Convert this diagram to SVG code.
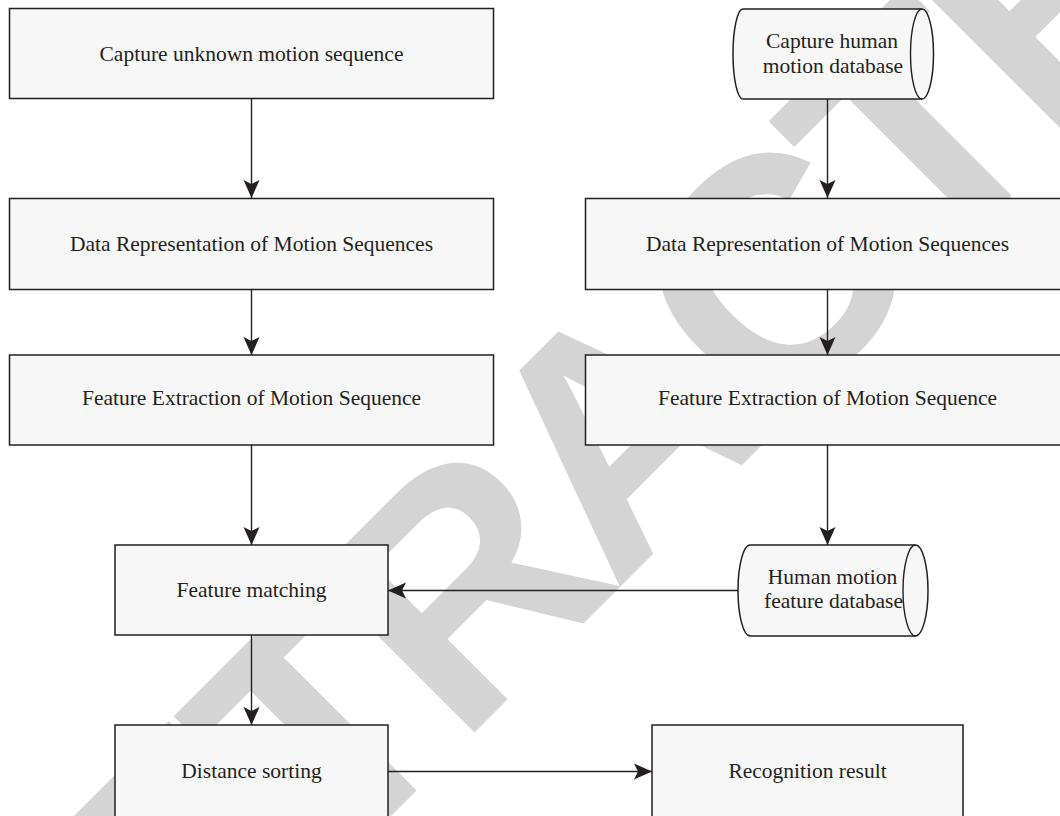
<svg xmlns="http://www.w3.org/2000/svg" width="1060" height="816" viewBox="0 0 1060 816">
  <style>
    .box { fill: #f7f7f7; stroke: #231f20; stroke-width: 1.5; }
    .edge { fill: none; stroke: #231f20; stroke-width: 1.4; }
    .label { font-family: "Liberation Serif", "Times New Roman", serif; font-size: 21.5px; fill: #231f20; text-anchor: middle; }
    .stamp { font-family: "Liberation Sans", Arial, sans-serif; font-weight: bold; font-size: 326px; letter-spacing: -16px; fill: #d4d4d4; }
  </style>
  <defs>
    <marker id="arrow" markerUnits="userSpaceOnUse" markerWidth="20" markerHeight="18" refX="18" refY="9" orient="auto">
      <path d="M18,9 L0,1 L4,9 L0,17 Z" fill="#231f20"/>
    </marker>
  </defs>

  <rect width="1060" height="816" fill="#ffffff"/>

  <!-- diagonal stamp behind the flowchart -->
  <text class="stamp" transform="translate(32,1175) rotate(-45)">RETRACTED</text>

  <g id="connectors">
    <line class="edge" x1="251.5" y1="98" x2="251.5" y2="198" marker-end="url(#arrow)"/>
    <line class="edge" x1="251.5" y1="290" x2="251.5" y2="355" marker-end="url(#arrow)"/>
    <line class="edge" x1="251.5" y1="445" x2="251.5" y2="545" marker-end="url(#arrow)"/>
    <line class="edge" x1="251.5" y1="635" x2="251.5" y2="725" marker-end="url(#arrow)"/>
    <line class="edge" x1="827.5" y1="99" x2="827.5" y2="198" marker-end="url(#arrow)"/>
    <line class="edge" x1="827.5" y1="290" x2="827.5" y2="355" marker-end="url(#arrow)"/>
    <line class="edge" x1="827.5" y1="445" x2="827.5" y2="545" marker-end="url(#arrow)"/>
    <line class="edge" x1="738" y1="590.5" x2="388" y2="590.5" marker-end="url(#arrow)"/>
    <line class="edge" x1="388" y1="771.5" x2="652" y2="771.5" marker-end="url(#arrow)"/>
  </g>

  <g id="capture-unknown">
    <rect class="box" x="9.5" y="8.5" width="484" height="90"/>
    <text class="label" x="251.5" y="61">Capture unknown motion sequence</text>
  </g>

  <g id="data-rep-left">
    <rect class="box" x="9.5" y="198.5" width="484" height="91"/>
    <text class="label" x="251.5" y="251">Data Representation of Motion Sequences</text>
  </g>

  <g id="feature-extract-left">
    <rect class="box" x="9.5" y="355" width="484" height="90"/>
    <text class="label" x="251.5" y="405">Feature Extraction of Motion Sequence</text>
  </g>

  <g id="feature-matching">
    <rect class="box" x="115" y="545" width="273" height="90"/>
    <text class="label" x="251.5" y="597">Feature matching</text>
  </g>

  <g id="distance-sorting">
    <rect class="box" x="115" y="725" width="273" height="110"/>
    <text class="label" x="251.5" y="778">Distance sorting</text>
  </g>

  <g id="capture-database">
    <path class="box" d="M743,9 L922,9 A11.5,45 0 0 1 922,99 L743,99 A10,45 0 0 1 743,9 Z"/>
    <path class="edge" d="M922,9 A11.5,45 0 0 0 922,99"/>
    <text class="label" x="832" y="48">Capture human</text>
    <text class="label" x="833" y="73">motion database</text>
  </g>

  <g id="data-rep-right">
    <rect class="box" x="585.5" y="198.5" width="490" height="91"/>
    <text class="label" x="827.5" y="251">Data Representation of Motion Sequences</text>
  </g>

  <g id="feature-extract-right">
    <rect class="box" x="585.5" y="355" width="490" height="90"/>
    <text class="label" x="827.5" y="405">Feature Extraction of Motion Sequence</text>
  </g>

  <g id="feature-database">
    <path class="box" d="M750,545 L915.5,545 A12.5,45.5 0 0 1 915.5,636 L750,636 A12,45.5 0 0 1 750,545 Z"/>
    <path class="edge" d="M915.5,545 A12.5,45.5 0 0 0 915.5,636"/>
    <text class="label" x="832.5" y="584">Human motion</text>
    <text class="label" x="833.5" y="608">feature database</text>
  </g>

  <g id="recognition-result">
    <rect class="box" x="652" y="725" width="311" height="110"/>
    <text class="label" x="807.5" y="778">Recognition result</text>
  </g>
</svg>
